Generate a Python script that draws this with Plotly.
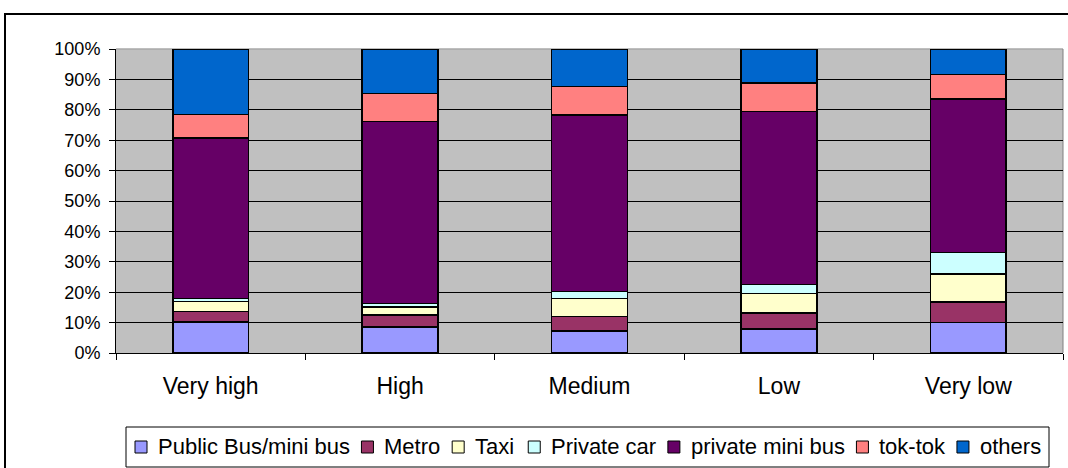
import plotly.graph_objects as go

# Income level groups along the x axis
categories = ["Very high", "High", "Medium", "Low", "Very low"]

# Share of trips by transport mode (%) in each group
public_bus = [10.2, 8.6, 7.3, 7.9, 10.1]
metro = [3.5, 3.9, 4.7, 5.3, 6.6]
taxi = [3.2, 2.7, 5.9, 6.4, 9.2]
private_car = [1.0, 1.1, 2.3, 2.9, 7.1]
private_mini_bus = [52.9, 59.8, 58.1, 56.9, 50.5]
tok_tok = [7.6, 9.3, 9.4, 9.4, 8.1]
others = [21.6, 14.6, 12.3, 11.2, 8.4]

series_names = ["Public Bus/mini bus", "Metro", "Taxi", "Private car",
                "private mini bus", "tok-tok", "others"]
series_values = [public_bus, metro, taxi, private_car,
                 private_mini_bus, tok_tok, others]
series_colors = ["#9999FF", "#993366", "#FFFFCC", "#CCFFFF",
                 "#660066", "#FF8080", "#0066CC"]

y_tick_vals = [0, 10, 20, 30, 40, 50, 60, 70, 80, 90, 100]
y_tick_text = [f"{v}%" for v in y_tick_vals]

FONT = "Liberation Sans, Arial, sans-serif"

fig = go.Figure()
for name, vals, color in zip(series_names, series_values, series_colors):
    fig.add_trace(go.Bar(
        x=categories, y=vals, name=name, showlegend=False,
        marker=dict(color=color, line=dict(color="black", width=1.6)),
    ))

W, H = 1068, 468
L, R, T, B = 116, 5, 49, 115
pw, ph = W - L - R, H - T - B


def px_x(x):
    return (x - L) / pw


def px_y(y):
    return (H - B - y) / ph


# Arial / Liberation Sans advance widths (per 1000 em) for the legend text
ADV = {" ": 278, "/": 278, "-": 333, "P": 667, "B": 667, "M": 833, "T": 611,
       "a": 556, "b": 556, "c": 500, "e": 556, "h": 556, "i": 222, "k": 500,
       "l": 222, "m": 833, "n": 556, "o": 556, "p": 556, "r": 333, "s": 500,
       "t": 278, "u": 556, "v": 500, "x": 500}


def text_width(s, size):
    return sum(ADV.get(ch, 556) for ch in s) * size / 1000.0


# Legend drawn as a framed row of swatches and labels below the plot
LEG_SIZE = 22
leg_left, leg_right, leg_top, leg_bottom = 126, 1049, 427, 467
sw, sw_top, text_off, item_gap = 12, 441, 21, 13.5
row_mid = 446

shapes = [
    # plot-area border on top and right
    dict(type="line", xref="paper", yref="paper", x0=0, x1=1, y0=1, y1=1,
         line=dict(color="#A8A8A8", width=1.5), layer="below"),
    dict(type="line", xref="paper", yref="paper", x0=1, x1=1, y0=0, y1=1,
         line=dict(color="#808080", width=1), layer="below"),
    # outer chart frame
    dict(type="rect", xref="paper", yref="paper",
         x0=px_x(5), x1=px_x(1075), y0=px_y(14), y1=px_y(475),
         line=dict(color="black", width=2), fillcolor="rgba(0,0,0,0)"),
    # legend frame
    dict(type="rect", xref="paper", yref="paper",
         x0=px_x(leg_left), x1=px_x(leg_right),
         y0=px_y(leg_top), y1=px_y(leg_bottom),
         line=dict(color="black", width=1), fillcolor="white"),
]
annotations = []
cx = 135
for name, color in zip(series_names, series_colors):
    shapes.append(dict(
        type="rect", xref="paper", yref="paper",
        x0=px_x(cx), x1=px_x(cx + sw), y0=px_y(sw_top), y1=px_y(sw_top + sw),
        line=dict(color="black", width=1), fillcolor=color))
    annotations.append(dict(
        text=name, xref="paper", yref="paper",
        x=px_x(cx + text_off), y=px_y(row_mid),
        xanchor="left", yanchor="middle", showarrow=False,
        font=dict(size=LEG_SIZE, family=FONT, color="black")))
    cx += text_off + text_width(name, LEG_SIZE) + item_gap

fig.update_layout(
    width=W, height=H,
    margin=dict(l=L, r=R, t=T, b=B, pad=0, autoexpand=False),
    barmode="stack", bargap=0.6,
    paper_bgcolor="white", plot_bgcolor="#C0C0C0",
    font=dict(family=FONT, color="black"),
    showlegend=False,
    xaxis=dict(
        tickson="boundaries", ticks="outside", ticklen=6, tickcolor="black",
        showline=True, linecolor="black", linewidth=1,
        tickfont=dict(size=23, family=FONT), ticklabelstandoff=12,
        showgrid=False, fixedrange=True,
    ),
    yaxis=dict(
        range=[0, 100], tickvals=y_tick_vals, ticktext=y_tick_text,
        ticks="outside", ticklen=6, tickcolor="black",
        showline=True, linecolor="black", linewidth=1,
        gridcolor="black", gridwidth=1,
        tickfont=dict(size=18, family=FONT), ticklabelstandoff=5,
        zeroline=False, fixedrange=True,
    ),
    shapes=shapes,
    annotations=annotations,
)

fig.write_html("out.html")
